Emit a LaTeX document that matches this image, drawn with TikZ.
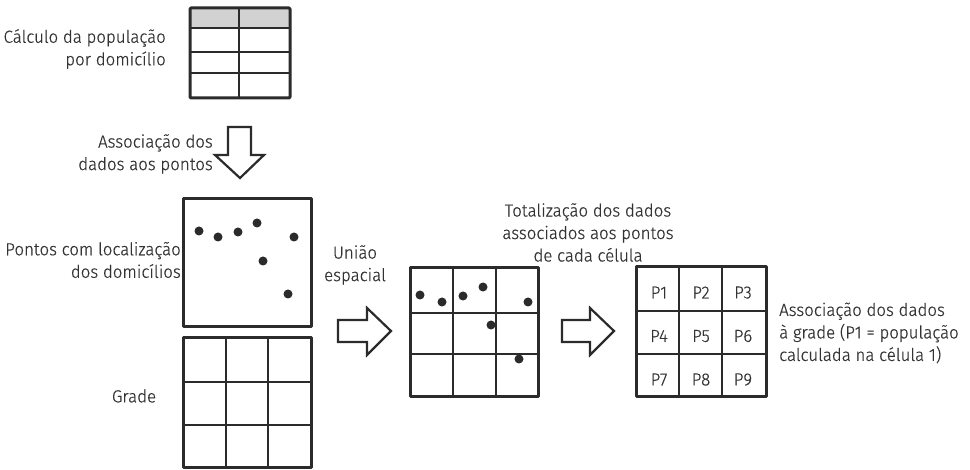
\documentclass[tikz,border=0pt]{standalone}
\usepackage{fontspec}
\setmainfont{Fira Sans}[UprightFont={* Light}, FakeStretch=0.965, FakeBold=0.5]
\definecolor{ink}{HTML}{2B2B2B}
\definecolor{txt}{HTML}{333333}
\definecolor{hdr}{HTML}{D2D2D2}
\begin{document}
\begin{tikzpicture}[x=1pt,y=-1pt, line join=round,
  box/.style={draw=ink, line width=3pt, inner sep=0pt, fill=none},
  gl/.style={draw=ink, line width=2.4pt},
  lbl/.style={font=\fontsize{17.5}{22.5}\selectfont, text=txt, inner sep=0pt},
  dot/.style={fill=ink, circle, inner sep=0pt, minimum size=9pt},
  barrow/.style={draw=ink, line width=2.2pt, fill=white, line join=miter}]
\useasboundingbox (0,0) rectangle (970,470);
% table
\fill[hdr] (190,8) rectangle (290,28);
\draw[gl] (190,28)--(290,28) (190,52)--(290,52) (190,73)--(290,73) (239,8)--(239,98);
\node[box, minimum width=100pt, minimum height=90pt, rounded corners=1pt] (table) at (240,53) {};
\node[lbl, anchor=east, align=right] (l1) at (166,49) {Cálculo da população\\por domicílio};
% down arrow
\draw[barrow] (228,127)--(251,127)--(251,155)--(264,155)--(240,178)--(215,155)--(228,155)--cycle;
\node[lbl, anchor=east, align=right] (l2) at (213,154) {Associação dos\\dados aos pontos};
% points box
\node[box, minimum width=128pt, minimum height=128pt] (pts) at (247,263) {};
\foreach \p/\q in {199/231,218/237,238/232,257/223,294/237,263/261,288/294}
  \node[dot] at (\p,\q) {};
\node[lbl, anchor=east, align=right] (l3) at (181,260) {Pontos com localização\\dos domicílios};
% grid
\draw[gl] (226,338)--(226,467) (268,338)--(268,467) (183,382)--(311,382) (183,425)--(311,425);
\node[box, minimum width=128pt, minimum height=129pt] (grid) at (247,402.5) {};
\node[lbl] (l4) at (134,396) {Grade};
% arrow 1
\node[lbl, align=center] (l5) at (355,265) {União\\espacial};
\draw[barrow] (338,320)--(367,320)--(367,308)--(391,331)--(367,355)--(367,342)--(338,342)--cycle;
% middle grid
\draw[gl] (453,268)--(453,397) (496,268)--(496,397) (410,313)--(538,313) (410,354)--(538,354);
\node[box, minimum width=128pt, minimum height=129pt] (mid) at (474,332.5) {};
\foreach \p/\q in {420/295,442/302,463/296,483/287,528/302,491/325,519/359}
  \node[dot] at (\p,\q) {};
\node[lbl, align=center] (l6) at (588,232.5) {Totalização dos dados\\associados aos pontos\\de cada célula};
% arrow 2
\draw[barrow] (562,320)--(590,320)--(590,308)--(614,331)--(590,355)--(590,342)--(562,342)--cycle;
% P grid
\draw[gl] (679,267)--(679,397) (722,267)--(722,397) (636,311)--(766,311) (636,354)--(766,354);
\node[box, minimum width=130pt, minimum height=130pt] (pg) at (701,332) {};
\foreach \t [count=\i from 0] in {P1,P2,P3,P4,P5,P6,P7,P8,P9} {
  \pgfmathsetmacro{\cx}{659+42*mod(\i,3)}
  \pgfmathsetmacro{\cy}{292.5+43.5*int(\i/3)}
  \node[lbl] (p\i) at (\cx,\cy) {\t};
}
\node[lbl, anchor=west, align=left] (l7) at (779,333) {Associação dos dados\\à grade (P1 = população\\calculada na célula 1)};
\end{tikzpicture}
\end{document}
